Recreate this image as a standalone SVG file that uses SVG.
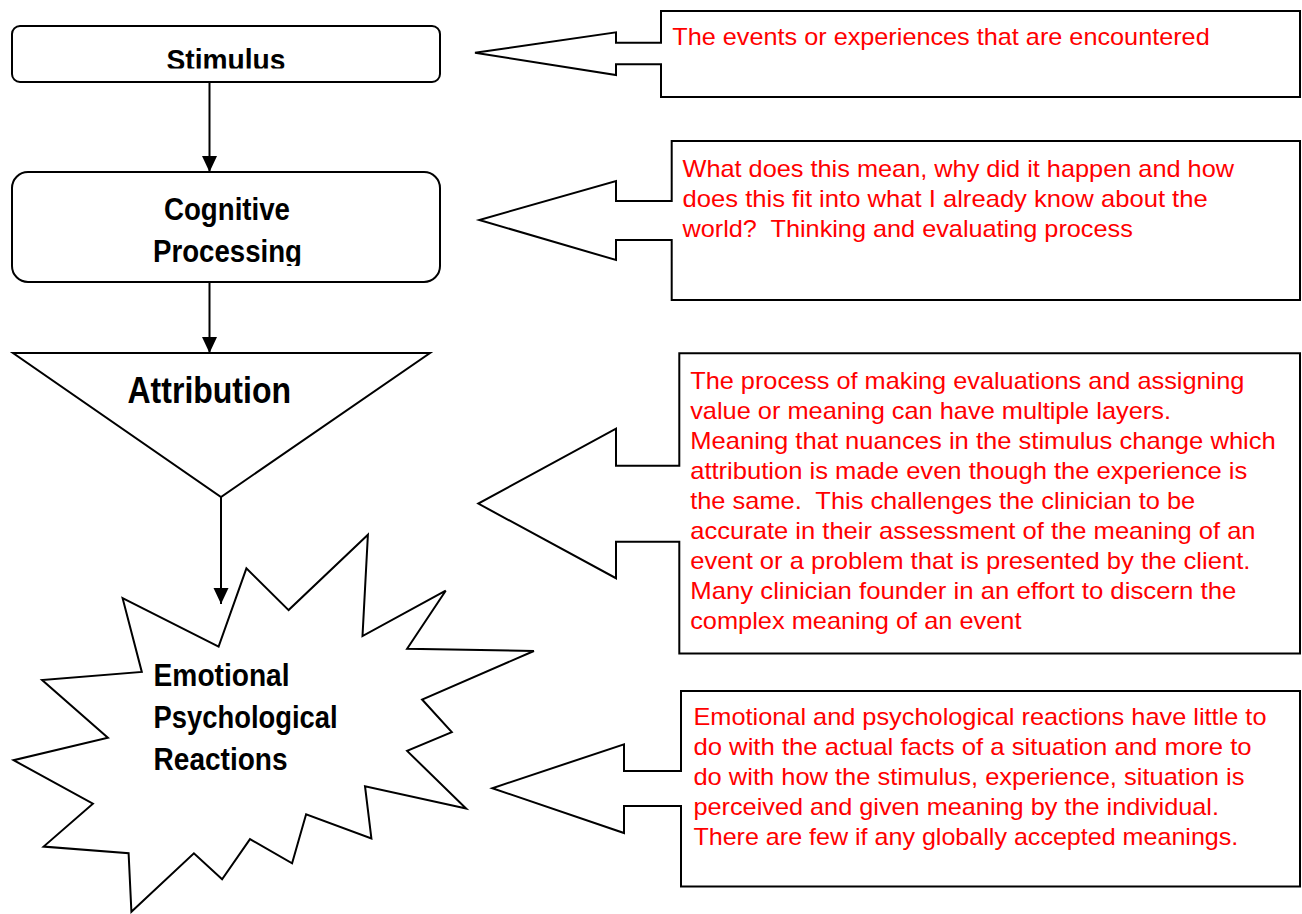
<svg xmlns="http://www.w3.org/2000/svg" width="1302" height="914" viewBox="0 0 1302 914">
<style>
.shape{fill:#fff;stroke:#000;stroke-width:2;stroke-linejoin:miter}
.node{font-family:"Liberation Sans",Arial,sans-serif;font-weight:bold;fill:#000}
.note{font-family:"Liberation Sans",Arial,sans-serif;fill:#ff0000;font-size:24px;white-space:pre}
.conn{stroke:#000;stroke-width:2;fill:none}
</style>
<defs>
<marker id="ah" markerUnits="userSpaceOnUse" markerWidth="16" markerHeight="16" viewBox="0 0 16 16" refX="16" refY="8" orient="auto">
<path d="M0,0.5 L16,8 L0,15.5 Z" fill="#000"/>
</marker>
<clipPath id="clipStim"><rect x="0" y="0" width="460" height="68.5"/></clipPath>
<clipPath id="clipProc"><rect x="0" y="0" width="460" height="266"/></clipPath>
</defs>
<rect width="1302" height="914" fill="#fff"/>

<g id="connectors">
<line class="conn" x1="209.5" y1="82" x2="209.5" y2="172" marker-end="url(#ah)"/>
<line class="conn" x1="209.5" y1="282" x2="209.5" y2="353" marker-end="url(#ah)"/>
<line class="conn" x1="221" y1="497" x2="221" y2="604" marker-end="url(#ah)"/>
</g>

<g id="stimulus">
<rect class="shape" x="12" y="26" width="428" height="56" rx="8"/>
<text class="node" x="166.5" y="70" font-size="30" textLength="119" lengthAdjust="spacingAndGlyphs" clip-path="url(#clipStim)">Stimulus</text>
</g>

<g id="cognitive">
<rect class="shape" x="12" y="172" width="428" height="110" rx="16"/>
<text class="node" x="164" y="220" font-size="31" textLength="126" lengthAdjust="spacingAndGlyphs">Cognitive</text>
<text class="node" x="153" y="262" font-size="31" textLength="149" lengthAdjust="spacingAndGlyphs" clip-path="url(#clipProc)">Processing</text>
</g>

<g id="attribution">
<polygon class="shape" points="13,353 430,353 221,497"/>
<text class="node" x="127.5" y="402.6" font-size="37" textLength="163.5" lengthAdjust="spacingAndGlyphs">Attribution</text>
</g>

<g id="reactions">
<polygon class="shape" points="122.6,598.2 218.6,646.6 246.4,568.4 288.6,610.1 367.9,534.8 362.5,636.1 445.7,590.7 407.1,648.8 533.9,651 422.1,699.5 451.8,732.2 407.1,750.9 466.1,808.6 365,786.2 371.4,838.4 306.1,814.2 292.1,863.3 250,839.1 222.1,879.3 193.9,853.3 131.4,911.8 128.6,853.3 43.6,846.6 92.9,803.7 13.6,760.2 107.9,737.8 42.1,680.1 141.8,671.9"/>
<text class="node" x="153.6" y="685.7" font-size="31" textLength="136" lengthAdjust="spacingAndGlyphs">Emotional</text>
<text class="node" x="153.6" y="727.8" font-size="31" textLength="184" lengthAdjust="spacingAndGlyphs">Psychological</text>
<text class="node" x="153.6" y="769.5" font-size="31" textLength="134" lengthAdjust="spacingAndGlyphs">Reactions</text>
</g>

<g id="note-stimulus">
<path class="shape" d="M661,11 L1300,11 L1300,97 L661,97 L661,64.3 L616,64.3 L616,75 L475,52.7 L616,32.3 L616,42.7 L661,42.7 Z"/>
<text class="note" x="672.3" y="45" textLength="537.4" lengthAdjust="spacingAndGlyphs">The events or experiences that are encountered</text>
</g>

<g id="note-cognitive">
<path class="shape" d="M671.7,141 L1300,141 L1300,300 L671.7,300 L671.7,240 L616,240 L616,260 L479.3,220 L616,181 L616,201 L671.7,201 Z"/>
<text class="note" x="682.5" y="176.7" textLength="551.5" lengthAdjust="spacingAndGlyphs">What does this mean, why did it happen and how</text>
<text class="note" x="682.5" y="206.7" textLength="525.2" lengthAdjust="spacingAndGlyphs">does this fit into what I already know about the</text>
<text class="note" x="682.5" y="236.7" textLength="450.3" lengthAdjust="spacingAndGlyphs" xml:space="preserve">world?  Thinking and evaluating process</text>
</g>

<g id="note-attribution">
<path class="shape" d="M679.3,353.2 L1300,353.2 L1300,653.6 L679.3,653.6 L679.3,541.8 L616,541.8 L616,578.2 L478.3,503.6 L616,428.6 L616,465.7 L679.3,465.7 Z"/>
<text class="note" x="690.2" y="389.3" textLength="554.2" lengthAdjust="spacingAndGlyphs">The process of making evaluations and assigning</text>
<text class="note" x="690.2" y="419.3" textLength="480.8" lengthAdjust="spacingAndGlyphs">value or meaning can have multiple layers.</text>
<text class="note" x="690.2" y="449.3" textLength="585.6" lengthAdjust="spacingAndGlyphs">Meaning that nuances in the stimulus change which</text>
<text class="note" x="690.2" y="479.3" textLength="557" lengthAdjust="spacingAndGlyphs">attribution is made even though the experience is</text>
<text class="note" x="690.2" y="509.3" textLength="505" lengthAdjust="spacingAndGlyphs" xml:space="preserve">the same.  This challenges the clinician to be</text>
<text class="note" x="690.2" y="539.3" textLength="565.4" lengthAdjust="spacingAndGlyphs">accurate in their assessment of the meaning of an</text>
<text class="note" x="690.2" y="569.3" textLength="560.2" lengthAdjust="spacingAndGlyphs">event or a problem that is presented by the client.</text>
<text class="note" x="690.2" y="599.3" textLength="546.1" lengthAdjust="spacingAndGlyphs">Many clinician founder in an effort to discern the</text>
<text class="note" x="690.2" y="629.3" textLength="331.3" lengthAdjust="spacingAndGlyphs">complex meaning of an event</text>
</g>

<g id="note-reactions">
<path class="shape" d="M681,691 L1300,691 L1300,886.5 L681,886.5 L681,806 L624,806 L624,833 L492.3,788.2 L624,744.3 L624,771 L681,771 Z"/>
<text class="note" x="693.4" y="725" textLength="573.1" lengthAdjust="spacingAndGlyphs">Emotional and psychological reactions have little to</text>
<text class="note" x="693.4" y="755" textLength="558.2" lengthAdjust="spacingAndGlyphs">do with the actual facts of a situation and more to</text>
<text class="note" x="693.4" y="785" textLength="551" lengthAdjust="spacingAndGlyphs">do with how the stimulus, experience, situation is</text>
<text class="note" x="693.4" y="815" textLength="525.6" lengthAdjust="spacingAndGlyphs">perceived and given meaning by the individual.</text>
<text class="note" x="693.4" y="845" textLength="544.9" lengthAdjust="spacingAndGlyphs">There are few if any globally accepted meanings.</text>
</g>
</svg>
